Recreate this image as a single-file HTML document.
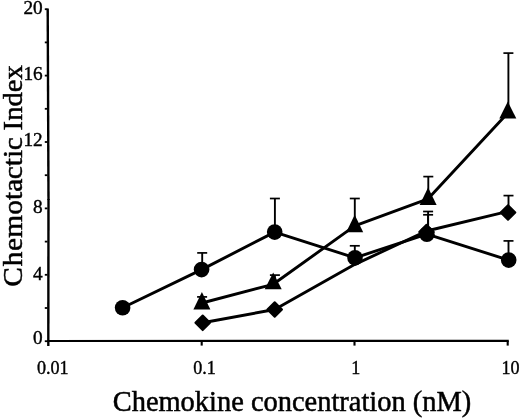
<!DOCTYPE html>
<html><head><meta charset="utf-8"><title>Chemotactic Index</title>
<style>html,body{margin:0;padding:0;background:#fff;overflow:hidden}svg{display:block}</style></head>
<body>
<svg width="520" height="418" viewBox="0 0 520 418">
<rect width="520" height="418" fill="#fff"/>
<g stroke="#000" fill="none">
<line x1="47.7" y1="8.4" x2="48.5" y2="200" stroke-width="2.4"/>
<line x1="48.5" y1="199" x2="48.3" y2="346.1" stroke-width="2.4"/>
<line x1="47.2" y1="341.0" x2="508.8" y2="340.8" stroke-width="2.2"/>
<line x1="44.8" y1="341.2" x2="47.5" y2="341.2" stroke-width="1.8"/>
<line x1="44.8" y1="308.0" x2="47.5" y2="308.0" stroke-width="1.8"/>
<line x1="44.8" y1="274.8" x2="47.5" y2="274.8" stroke-width="1.8"/>
<line x1="44.8" y1="241.6" x2="47.5" y2="241.6" stroke-width="1.8"/>
<line x1="44.8" y1="208.4" x2="47.5" y2="208.4" stroke-width="1.8"/>
<line x1="44.8" y1="175.2" x2="47.5" y2="175.2" stroke-width="1.8"/>
<line x1="44.8" y1="142.0" x2="47.5" y2="142.0" stroke-width="1.8"/>
<line x1="44.8" y1="108.8" x2="47.5" y2="108.8" stroke-width="1.8"/>
<line x1="44.8" y1="75.6" x2="47.5" y2="75.6" stroke-width="1.8"/>
<line x1="44.8" y1="42.4" x2="47.5" y2="42.4" stroke-width="1.8"/>
<line x1="44.8" y1="9.2" x2="47.5" y2="9.2" stroke-width="1.8"/>
<line x1="201.7" y1="341" x2="201.7" y2="345.6" stroke-width="2.1"/>
<line x1="354.5" y1="341" x2="354.5" y2="345.6" stroke-width="2.1"/>
<line x1="507.7" y1="341" x2="507.7" y2="345.6" stroke-width="2.1"/>
</g>
<g stroke="#000" stroke-width="2.9" fill="none" stroke-linejoin="round">
<polyline points="122.6,307.8 201.6,269.6 274.7,232.1 355.0,257.8 426.9,234.2 508.7,260.1"/>
<polyline points="201.9,303.0 273.2,284.3 354.7,225.9 428.1,198.8 507.8,112.9"/>
<polyline points="202.7,322.8 274.7,309.5 354.5,264.6 426.5,231.0 508.0,211.3"/>
</g>
<g stroke="#000" fill="none">
<line x1="202.2" y1="252.9" x2="202.2" y2="269.6" stroke-width="1.9"/>
<line x1="197.2" y1="252.9" x2="207.2" y2="252.9" stroke-width="1.7"/>
<line x1="274.9" y1="198.5" x2="274.9" y2="232.1" stroke-width="1.9"/>
<line x1="269.9" y1="198.5" x2="279.9" y2="198.5" stroke-width="1.7"/>
<line x1="354.8" y1="245.8" x2="354.8" y2="257.8" stroke-width="1.9"/>
<line x1="349.8" y1="245.8" x2="359.8" y2="245.8" stroke-width="1.7"/>
<line x1="428.1" y1="214.8" x2="428.1" y2="234.2" stroke-width="1.9"/>
<line x1="423.1" y1="214.8" x2="433.1" y2="214.8" stroke-width="1.7"/>
<line x1="508.5" y1="240.9" x2="508.5" y2="260.1" stroke-width="1.9"/>
<line x1="503.5" y1="240.9" x2="513.5" y2="240.9" stroke-width="1.7"/>
<line x1="202.1" y1="296.9" x2="202.1" y2="303.0" stroke-width="1.9"/>
<line x1="197.1" y1="296.9" x2="207.1" y2="296.9" stroke-width="1.7"/>
<line x1="274.9" y1="275.1" x2="274.9" y2="284.3" stroke-width="1.9"/>
<line x1="269.9" y1="275.1" x2="279.9" y2="275.1" stroke-width="1.7"/>
<line x1="354.8" y1="198.5" x2="354.8" y2="225.9" stroke-width="1.9"/>
<line x1="349.8" y1="198.5" x2="359.8" y2="198.5" stroke-width="1.7"/>
<line x1="428.3" y1="176.6" x2="428.3" y2="198.8" stroke-width="1.9"/>
<line x1="423.3" y1="176.6" x2="433.3" y2="176.6" stroke-width="1.7"/>
<line x1="508.4" y1="53.1" x2="508.4" y2="112.9" stroke-width="1.9"/>
<line x1="503.4" y1="53.1" x2="513.4" y2="53.1" stroke-width="1.7"/>
<line x1="428.1" y1="211.5" x2="428.1" y2="232.0" stroke-width="1.9"/>
<line x1="423.1" y1="211.5" x2="433.1" y2="211.5" stroke-width="1.7"/>
<line x1="508.5" y1="195.6" x2="508.5" y2="212.5" stroke-width="1.9"/>
<line x1="503.5" y1="195.6" x2="513.5" y2="195.6" stroke-width="1.7"/>
</g>
<g fill="#000">
<circle cx="122.6" cy="307.8" r="7.8"/>
<circle cx="201.6" cy="269.6" r="7.8"/>
<circle cx="274.7" cy="232.1" r="7.8"/>
<circle cx="355.0" cy="257.8" r="7.8"/>
<circle cx="426.9" cy="234.2" r="7.8"/>
<circle cx="508.7" cy="260.1" r="7.8"/>
<polygon points="201.9,291.9 210.4,309.4 193.4,309.4"/>
<polygon points="273.2,272.6 281.7,289.3 264.7,289.3"/>
<polygon points="354.7,214.8 363.2,232.3 346.2,232.3"/>
<polygon points="428.1,187.6 436.6,205.0 419.6,205.0"/>
<polygon points="507.8,101.6 516.3,118.5 499.3,118.5"/>
<polygon points="202.7,315.5 210.0,322.8 202.7,330.1 195.4,322.8" stroke="#000" stroke-width="2" stroke-linejoin="round"/>
<polygon points="274.7,302.2 282.0,309.5 274.7,316.8 267.4,309.5" stroke="#000" stroke-width="2" stroke-linejoin="round"/>
<polygon points="426.5,224.7 433.8,232.0 426.5,239.3 419.2,232.0" stroke="#000" stroke-width="2" stroke-linejoin="round"/>
<polygon points="508.0,205.2 515.3,212.5 508.0,219.8 500.7,212.5" stroke="#000" stroke-width="2" stroke-linejoin="round"/>
</g>
<g font-family="'Liberation Serif', serif" fill="#000" stroke="#000" stroke-width="0.4">
<text x="42.7" y="344.0" font-size="19.3" text-anchor="end">0</text>
<text x="42.7" y="279.9" font-size="19.3" text-anchor="end">4</text>
<text x="42.7" y="213.1" font-size="19.3" text-anchor="end">8</text>
<text x="42.7" y="146.4" font-size="19.3" text-anchor="end">12</text>
<text x="42.7" y="80.4" font-size="19.3" text-anchor="end">16</text>
<text x="42.7" y="14.3" font-size="19.3" text-anchor="end">20</text>
<text transform="translate(36.9,374.2) scale(0.925,1)" font-size="19.6">0.01</text>
<text transform="translate(193.2,374.2) scale(0.925,1)" font-size="19.6">0.1</text>
<text transform="translate(351.3,374.2) scale(0.925,1)" font-size="19.6">1</text>
<text transform="translate(501.5,374.2) scale(0.925,1)" font-size="19.6">10</text>
<text transform="translate(112.7,410.9) scale(1,1.06)" font-size="28.45" stroke-width="0.5">Chemokine concentration (nM)</text>
<text transform="translate(21.8,286.7) rotate(-90) scale(1,0.93)" stroke-width="0.5"><tspan x="0" dx="0 0.8 0.5 0.3 0.2 0 0 -0.5 0 0 -0.4" font-size="29.4">Chemotactic</tspan> <tspan x="156.3" font-size="28.7">Index</tspan></text>
</g>
</svg>
</body></html>
